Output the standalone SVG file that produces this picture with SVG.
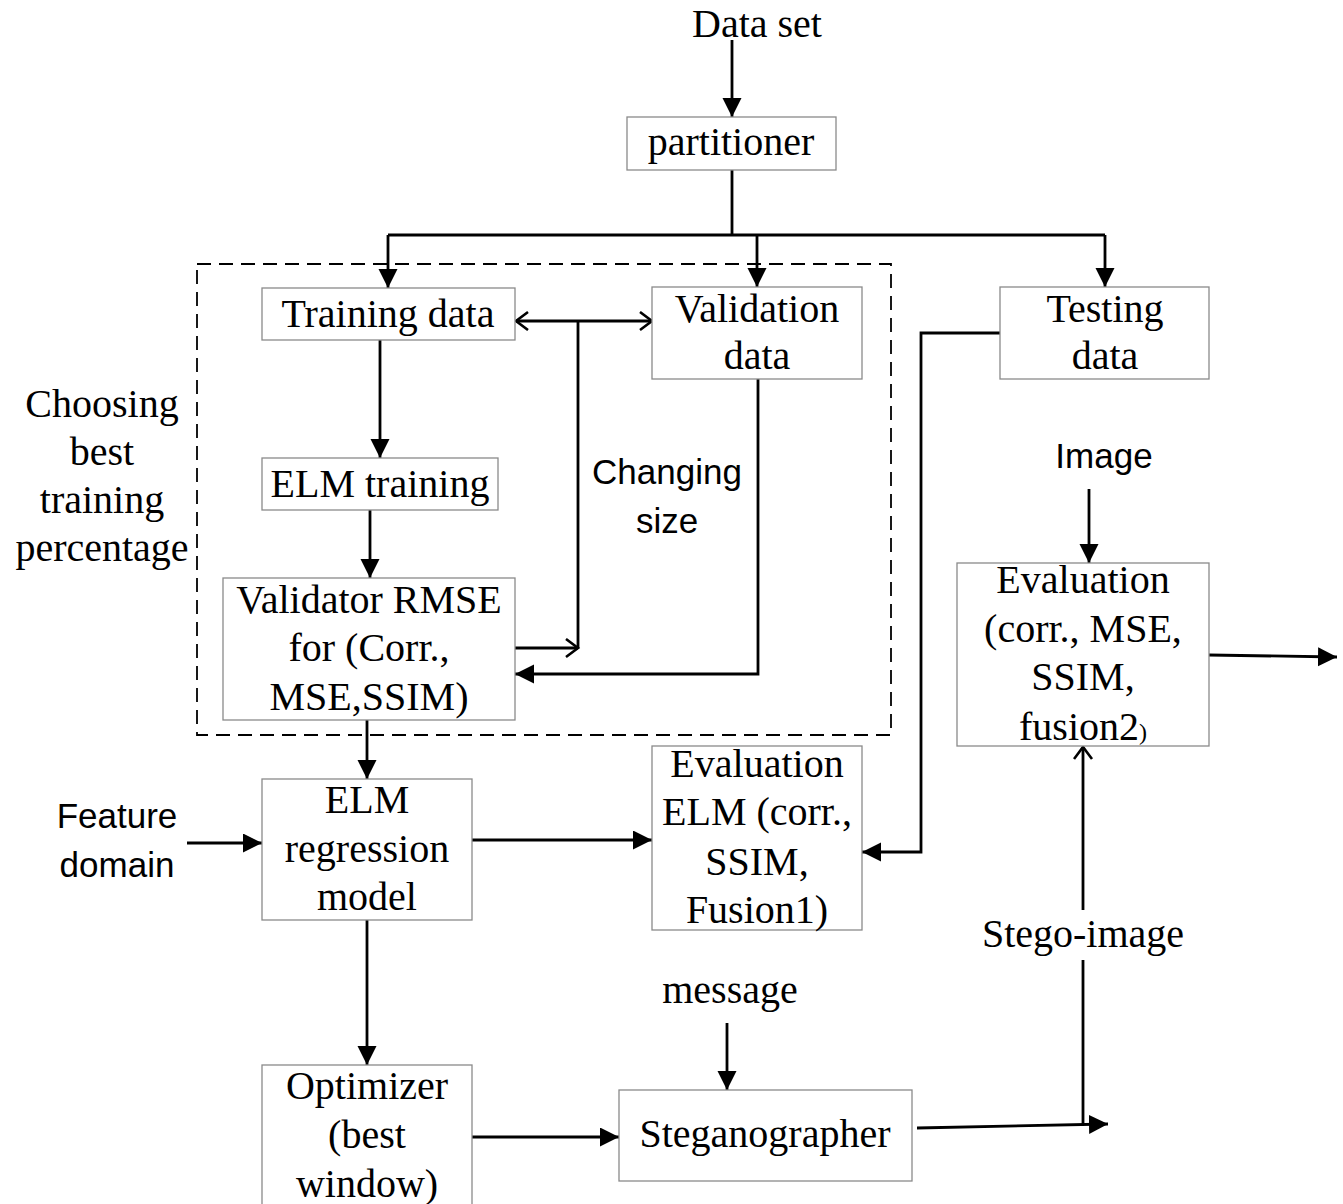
<svg xmlns="http://www.w3.org/2000/svg" width="1343" height="1204" viewBox="0 0 1343 1204">
<style>
.box{fill:#fff;stroke:#8a8a8a;stroke-width:1.3}
.t{font-family:"Liberation Serif","Times New Roman",serif;font-size:40px;fill:#000;text-anchor:middle}
.s{font-family:"Liberation Sans",Arial,sans-serif;font-size:35px;fill:#000;text-anchor:middle}
.c{fill:none;stroke:#000;stroke-width:2.8}
.dash{fill:none;stroke:#000;stroke-width:1.8;stroke-dasharray:14 8}
</style>
<defs>
<marker id="fa" markerUnits="userSpaceOnUse" markerWidth="20" markerHeight="20" refX="19" refY="9.5" orient="auto">
<path d="M0,0 L19,9.5 L0,19 z" fill="#000"/>
</marker>
<marker id="oa" markerUnits="userSpaceOnUse" markerWidth="16" markerHeight="22" refX="13" refY="10" orient="auto-start-reverse">
<path d="M1,1 L13,10 L1,19" fill="none" stroke="#000" stroke-width="2.6"/>
</marker>
</defs>
<rect x="0" y="0" width="1343" height="1204" fill="#fff"/>

<rect id="group-frame" class="dash" x="197" y="264" width="694" height="471"/>

<g id="connectors">
<path class="c" d="M732,40 V117" marker-end="url(#fa)"/>
<path class="c" d="M732,170 V235"/>
<path class="c" d="M388,235 H1105"/>
<path class="c" d="M388,235 V288" marker-end="url(#fa)"/>
<path class="c" d="M757,235 V287" marker-end="url(#fa)"/>
<path class="c" d="M1105,235 V287" marker-end="url(#fa)"/>
<path class="c" d="M380,340 V458" marker-end="url(#fa)"/>
<path class="c" d="M370,510 V578" marker-end="url(#fa)"/>
<path class="c" d="M516,321 H652" marker-start="url(#oa)" marker-end="url(#oa)"/>
<path class="c" d="M578,321 V648"/>
<path class="c" d="M515,648 H578" marker-end="url(#oa)"/>
<path class="c" d="M758,379 V674 H515" marker-end="url(#fa)"/>
<path class="c" d="M367,720 V779" marker-end="url(#fa)"/>
<path class="c" d="M187,843 H262" marker-end="url(#fa)"/>
<path class="c" d="M472,840 H652" marker-end="url(#fa)"/>
<path class="c" d="M1000,333 H921 V852 H862" marker-end="url(#fa)"/>
<path class="c" d="M1089,489 V563" marker-end="url(#fa)"/>
<path class="c" d="M1209,655 L1337,657" marker-end="url(#fa)"/>
<path class="c" d="M367,920 V1065" marker-end="url(#fa)"/>
<path class="c" d="M472,1137 H619" marker-end="url(#fa)"/>
<path class="c" d="M727,1023 V1090" marker-end="url(#fa)"/>
<path class="c" d="M917,1128 L1108,1124" marker-end="url(#fa)"/>
<path class="c" d="M1083,1125 V960"/>
<path class="c" d="M1083,910 V747" marker-end="url(#oa)"/>
</g>

<g id="dataset"><text class="t" x="757" y="37">Data set</text></g>
<g id="partitioner"><rect class="box" x="627" y="117" width="209" height="53"/><text class="t" x="731" y="155">partitioner</text></g>
<g id="training-data"><rect class="box" x="262" y="288" width="253" height="52"/><text class="t" x="388" y="327">Training data</text></g>
<g id="validation-data"><rect class="box" x="652" y="287" width="210" height="92"/><text class="t" x="757" y="322">Validation</text><text class="t" x="757" y="369">data</text></g>
<g id="testing-data"><rect class="box" x="1000" y="287" width="209" height="92"/><text class="t" x="1105" y="322">Testing</text><text class="t" x="1105" y="369">data</text></g>
<g id="elm-training"><rect class="box" x="262" y="458" width="236" height="52"/><text class="t" x="380" y="497">ELM training</text></g>
<g id="validator"><rect class="box" x="223" y="578" width="292" height="142"/><text class="t" x="369" y="613">Validator RMSE</text><text class="t" x="369" y="661">for (Corr.,</text><text class="t" x="369" y="710">MSE,SSIM)</text></g>
<g id="changing-size"><text class="s" x="667" y="484">Changing</text><text class="s" x="667" y="533">size</text></g>
<g id="choosing"><text class="t" x="102" y="417">Choosing</text><text class="t" x="102" y="465">best</text><text class="t" x="102" y="513">training</text><text class="t" x="102" y="561">percentage</text></g>
<g id="image"><text class="s" x="1104" y="468">Image</text></g>
<g id="evaluation2"><rect class="box" x="957" y="563" width="252" height="183"/><text class="t" x="1083" y="593">Evaluation</text><text class="t" x="1083" y="642">(corr., MSE,</text><text class="t" x="1083" y="690">SSIM,</text><text class="t" x="1083" y="740">fusion2<tspan font-size="24">)</tspan></text></g>
<g id="feature-domain"><text class="s" x="117" y="828">Feature</text><text class="s" x="117" y="877">domain</text></g>
<g id="elm-regression"><rect class="box" x="262" y="779" width="210" height="141"/><text class="t" x="367" y="813">ELM</text><text class="t" x="367" y="862">regression</text><text class="t" x="367" y="910">model</text></g>
<g id="evaluation-elm"><rect class="box" x="652" y="746" width="210" height="184"/><text class="t" x="757" y="777">Evaluation</text><text class="t" x="757" y="825">ELM (corr.,</text><text class="t" x="757" y="875">SSIM,</text><text class="t" x="757" y="923">Fusion1)</text></g>
<g id="stego-image"><text class="t" x="1083" y="947">Stego-image</text></g>
<g id="message"><text class="t" x="730" y="1003">message</text></g>
<g id="optimizer"><rect class="box" x="262" y="1065" width="210" height="150"/><text class="t" x="367" y="1099">Optimizer</text><text class="t" x="367" y="1148">(best</text><text class="t" x="367" y="1197">window)</text></g>
<g id="steganographer"><rect class="box" x="619" y="1090" width="293" height="91"/><text class="t" x="765" y="1147">Steganographer</text></g>
</svg>
